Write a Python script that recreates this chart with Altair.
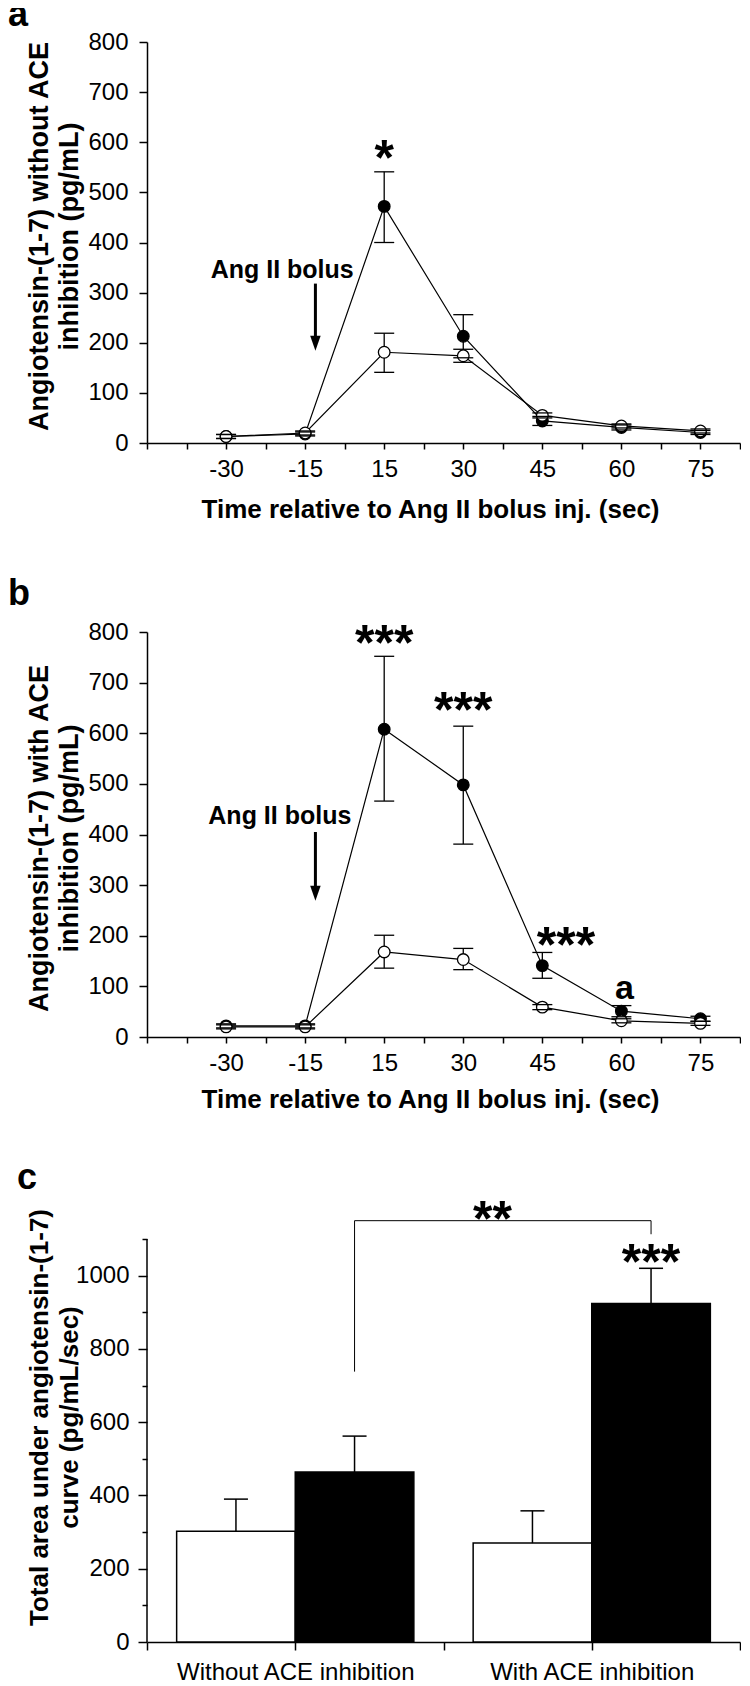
import json
import altair as alt
import pandas as pd

FONT = "Liberation Sans"

# ---------------- data ----------------
time_labels = ["-30", "-15", "15", "30", "45", "60", "75"]
time_index = [1, 2, 3, 4, 5, 6, 7]

# panel a : without ACE inhibition
a_filled = [13, 18, 472, 213, 44, 31, 21]
a_filled_hi = [17, 22, 541, 256, 53, 36, 25]
a_filled_lo = [9, 14, 400, 170, 35, 26, 17]
a_open = [13, 20, 181, 174, 55, 34, 24]
a_open_hi = [17, 24, 219, 187, 60, 38, 28]
a_open_lo = [9, 16, 141, 161, 50, 30, 20]
a_star_text = ["*"]
a_star_pos = [3]
a_star_val = [535]

# panel b : with ACE inhibition
b_filled = [22, 22, 608, 498, 141, 51, 36]
b_filled_hi = [26, 26, 752, 614, 167, 62, 41]
b_filled_lo = [18, 18, 466, 381, 116, 40, 31]
b_open = [20, 20, 168, 153, 59, 32, 27]
b_open_hi = [24, 24, 201, 175, 64, 36, 31]
b_open_lo = [16, 16, 136, 133, 54, 28, 23]
b_star_text = ["***", "***", "***"]
b_star_pos = [3, 4, 5.3]
b_star_val = [745, 612, 148]
b_letter_text = ["a"]
b_letter_pos = [6.04]
b_letter_val = [75]

# arrow "Ang II bolus"
bolus_text = "Ang II bolus"
a_bolus = dict(text_pos=1.71, text_val=345, arrow_pos=2.13, arrow_from=318, arrow_to=184)
b_bolus = dict(text_pos=1.68, text_val=436, arrow_pos=2.13, arrow_from=405, arrow_to=269)

# panel c : AUC bars
groups = ["Without ACE inhibition", "With ACE inhibition"]
c_open = [302, 270]
c_open_err = [390, 358]
c_filled = [464, 924]
c_filled_err = [562, 1020]
c_axis_max = 1100
c_bracket_level = 1150
c_bracket_left_end = 738
c_bracket_right_end = 1113
c_bracket_text = "**"
c_bracket_text_pos = 2.33
c_bracket_text_val = 1108
c_star_text = "***"
c_star_val = 991

# ---------------- helpers ----------------
W = 593
BLACK = "black"
H_A, H_B = 401, 405
H_C_AXIS = 403          # drawn length of panel c's y axis
H_C = 416               # panel c plot area (extra head-room above the axis)

time_scale = alt.Scale(domain=[0, 7.5], nice=False, zero=False)
time_tick_vals = [i * 0.5 for i in range(16)]
time_label_expr = ("datum.value % 1 == 0 && datum.value >= 1 ? "
                   + json.dumps([""] + time_labels) + "[datum.value] : ''")


def time_panel(filled, fhi, flo, opn, ohi, olo, height, ytitle, title_y, xtitle_y,
               stars, letters, bolus, panel_letter, letter_x, letter_y):
    rows = []
    for i in range(len(time_index)):
        rows.append(dict(pos=time_index[i], series="filled", v=filled[i], hi=fhi[i], lo=flo[i]))
        rows.append(dict(pos=time_index[i], series="open", v=opn[i], hi=ohi[i], lo=olo[i]))
    df = pd.DataFrame(rows)

    xaxis = alt.Axis(values=time_tick_vals, labelExpr=time_label_expr,
                     title="Time relative to Ang II bolus inj. (sec)",
                     titleX=283, titleY=xtitle_y, titleAlign="center",
                     titleBaseline="alphabetic", tickSize=6, labelPadding=8,
                     labelOverlap=False, labelFlush=False, grid=False)
    yscale = alt.Scale(domain=[0, 800], nice=False)
    yaxis = alt.Axis(values=list(range(0, 801, 100)), title=ytitle,
                     titleX=-108, titleY=title_y, titleAngle=270, titleAlign="center",
                     titleBaseline="middle", titleLineHeight=30, titleFontSize=27,
                     tickSize=8, labelPadding=11, labelFlush=False, grid=False)

    def X(f):
        return alt.X(f"{f}:Q", scale=time_scale, axis=xaxis)

    def Y(f):
        return alt.Y(f"{f}:Q", scale=yscale, axis=yaxis)

    base = alt.Chart(df)
    lines = base.mark_line(color=BLACK, strokeWidth=1.2).encode(
        x=X("pos"), y=Y("v"), detail="series:N")
    err = base.mark_rule(color=BLACK, strokeWidth=1.3).encode(
        x=X("pos"), y=Y("lo"), y2="hi:Q")
    cap_hi = base.mark_rule(color=BLACK, strokeWidth=1.3, xOffset=-10, x2Offset=10).encode(
        x=X("pos"), x2="pos:Q", y=Y("hi"))
    cap_lo = base.mark_rule(color=BLACK, strokeWidth=1.3, xOffset=-10, x2Offset=10).encode(
        x=X("pos"), x2="pos:Q", y=Y("lo"))
    pts_f = base.transform_filter("datum.series == 'filled'").mark_circle(
        size=135, fill=BLACK, stroke=BLACK, strokeWidth=1.3, opacity=1).encode(
        x=X("pos"), y=Y("v"))
    pts_o = base.transform_filter("datum.series == 'open'").mark_circle(
        size=135, fill="white", stroke=BLACK, strokeWidth=1.3, opacity=1).encode(
        x=X("pos"), y=Y("v"))

    layers = [lines, err, pts_f, pts_o, cap_hi, cap_lo]

    sdf = pd.DataFrame(dict(t=stars[0], pos=stars[1], v=stars[2]))
    layers.append(alt.Chart(sdf).mark_text(
        font=FONT, fontSize=50, fontWeight="bold", baseline="alphabetic", align="center",
        color=BLACK).encode(x=X("pos"), y=Y("v"), text="t:N"))
    if letters is not None:
        ldf = pd.DataFrame(dict(t=letters[0], pos=letters[1], v=letters[2]))
        layers.append(alt.Chart(ldf).mark_text(
            font=FONT, fontSize=34, fontWeight="bold", baseline="alphabetic", align="center",
            color=BLACK).encode(x=X("pos"), y=Y("v"), text="t:N"))

    bdf = pd.DataFrame([dict(t=bolus_text, pos=bolus["text_pos"], v=bolus["text_val"],
                             apos=bolus["arrow_pos"], afrom=bolus["arrow_from"],
                             ato=bolus["arrow_to"])])
    bb = alt.Chart(bdf)
    layers.append(bb.mark_text(font=FONT, fontSize=25, fontWeight="bold", baseline="middle",
                               align="center", color=BLACK).encode(
        x=X("pos"), y=Y("v"), text="t:N"))
    layers.append(bb.mark_rule(color=BLACK, strokeWidth=3, y2Offset=-8).encode(
        x=X("apos"), y=Y("afrom"), y2="ato:Q"))
    layers.append(bb.mark_point(shape="M-0.7,-1L0.7,-1L0,1Z", size=225, filled=True,
                                fill=BLACK, strokeWidth=0, opacity=1, yOffset=-7.5).encode(
        x=X("apos"), y=Y("ato")))

    pl = pd.DataFrame(dict(t=[panel_letter]))
    layers.append(alt.Chart(pl).mark_text(font=FONT, fontSize=36, fontWeight="bold",
                                          baseline="alphabetic", align="left",
                                          color=BLACK).encode(
        x=alt.value(letter_x), y=alt.value(letter_y), text="t:N"))

    return alt.layer(*layers).properties(width=W, height=height)


panel_a = time_panel(a_filled, a_filled_hi, a_filled_lo, a_open, a_open_hi, a_open_lo,
                     H_A, ["Angiotensin-(1-7) without ACE", "inhibition (pg/mL)"], 194, 74,
                     (a_star_text, a_star_pos, a_star_val), None, a_bolus, "a", -139, -16)
panel_b = time_panel(b_filled, b_filled_hi, b_filled_lo, b_open, b_open_hi, b_open_lo,
                     H_B, ["Angiotensin-(1-7) with ACE", "inhibition (pg/mL)"], 206, 70,
                     (b_star_text, b_star_pos, b_star_val),
                     (b_letter_text, b_letter_pos, b_letter_val), b_bolus, "b", -139, -27)

# ---------------- panel c ----------------
crow = []
for gi, g in enumerate(groups):
    crow.append(dict(group=g, gi=gi, ci=0, cond="open", v=c_open[gi], err=c_open_err[gi]))
    crow.append(dict(group=g, gi=gi, ci=1, cond="filled", v=c_filled[gi], err=c_filled_err[gi]))
cdf = pd.DataFrame(crow)

c_xscale = alt.Scale(domain=[0, 4], nice=False, zero=False)
c_label_expr = json.dumps(["", groups[0], "", groups[1], ""]) + "[datum.value]"
c_xaxis = alt.Axis(values=[0, 1, 2, 3, 4], labelExpr=c_label_expr, title=None,
                   tickSize=8, labelPadding=10, labelOverlap=False, labelFlush=False,
                   labelLimit=0, grid=False)
c_yscale = alt.Scale(domain=[0, c_axis_max * H_C / H_C_AXIS], nice=False)
c_yaxis = alt.Axis(values=list(range(0, c_axis_max + 1, 100)), domain=False, format="d",
                   labelExpr="datum.value % 200 == 0 && datum.value <= 1000 ? datum.label : ''",
                   tickSize={"condition": {"test": "datum.value % 200 == 0 && datum.value <= 1000",
                                           "value": 9}, "value": 5},
                   labelPadding=9,
                   title=["Total area under angiotensin-(1-7)", "curve (pg/mL/sec)"],
                   titleX=-108, titleY=191, titleAngle=270, titleAlign="center",
                   titleBaseline="middle", titleLineHeight=30, labelFlush=False, grid=False)


def CX(f):
    return alt.X(f"{f}:Q", scale=c_xscale, axis=c_xaxis)


def CY(f):
    return alt.Y(f"{f}:Q", scale=c_yscale, axis=c_yaxis)


cbase = alt.Chart(cdf).transform_calculate(
    x0="2 * datum.gi + 0.2 + 0.8 * datum.ci",
    x1="2 * datum.gi + 1.0 + 0.8 * datum.ci",
    xc="2 * datum.gi + 0.6 + 0.8 * datum.ci",
    zero="0")

bars_o = cbase.transform_filter("datum.cond == 'open'").mark_rect(
    fill="white", stroke=BLACK, strokeWidth=1.5).encode(
    x=CX("x0"), x2="x1:Q", y=CY("v"), y2="zero:Q")
bars_f = cbase.transform_filter("datum.cond == 'filled'").mark_rect(
    fill=BLACK, stroke=BLACK, strokeWidth=1.5).encode(
    x=CX("x0"), x2="x1:Q", y=CY("v"), y2="zero:Q")
c_err = cbase.mark_rule(color=BLACK, strokeWidth=1.5).encode(
    x=CX("xc"), y=CY("v"), y2="err:Q")
c_cap = cbase.mark_rule(color=BLACK, strokeWidth=1.5, xOffset=-12, x2Offset=12).encode(
    x=CX("xc"), x2="xc:Q", y=CY("err"))

# y axis line of panel c (0 .. c_axis_max)
c_axis_line = alt.Chart(pd.DataFrame(dict(lo=[0], hi=[c_axis_max]))).mark_rule(
    color=BLACK, strokeWidth=1.5).encode(x=alt.value(0), y=CY("lo"), y2="hi:Q")

brk = pd.DataFrame([dict(level=c_bracket_level, lend=c_bracket_left_end,
                         rend=c_bracket_right_end, t=c_bracket_text, tp=c_bracket_text_pos,
                         tv=c_bracket_text_val, st=c_star_text, sv=c_star_val)])
bbase = alt.Chart(brk).transform_calculate(
    xl="2 * 0 + 0.6 + 0.8", xr="2 * 1 + 0.6 + 0.8")
brk_h = bbase.mark_rule(color=BLACK, strokeWidth=1).encode(
    x=CX("xl"), x2="xr:Q", y=CY("level"))
brk_l = bbase.mark_rule(color=BLACK, strokeWidth=1).encode(
    x=CX("xl"), y=CY("lend"), y2="level:Q")
brk_r = bbase.mark_rule(color=BLACK, strokeWidth=1).encode(
    x=CX("xr"), y=CY("rend"), y2="level:Q")
brk_t = bbase.mark_text(font=FONT, fontSize=50, fontWeight="bold", baseline="alphabetic",
                        align="center", color=BLACK).encode(
    x=CX("tp"), y=CY("tv"), text="t:N")
star_t = bbase.mark_text(font=FONT, fontSize=50, fontWeight="bold", baseline="alphabetic",
                         align="center", color=BLACK).encode(
    x=CX("xr"), y=CY("sv"), text="st:N")
c_letter = alt.Chart(pd.DataFrame(dict(t=["c"]))).mark_text(
    font=FONT, fontSize=36, fontWeight="bold", baseline="alphabetic", align="left",
    color=BLACK).encode(x=alt.value(-130), y=alt.value(-37), text="t:N")

panel_c = alt.layer(bars_o, bars_f, c_err, c_cap, c_axis_line, brk_h, brk_l, brk_r, brk_t,
                    star_t, c_letter).properties(width=W, height=H_C)

chart = alt.vconcat(panel_a, panel_b, panel_c, spacing=189, bounds="flush").properties(
    padding={"left": 0, "top": -11, "right": 0, "bottom": 0})

chart = chart.configure_view(stroke=None).configure_axis(
    domainColor=BLACK, domainWidth=1.5, tickColor=BLACK, tickWidth=1.5,
    labelColor=BLACK, labelFont=FONT, labelFontSize=24,
    titleColor=BLACK, titleFont=FONT, titleFontSize=26, titleFontWeight="bold",
    grid=False)

chart.save("out.html", embed_options={"renderer": "svg", "actions": False})
